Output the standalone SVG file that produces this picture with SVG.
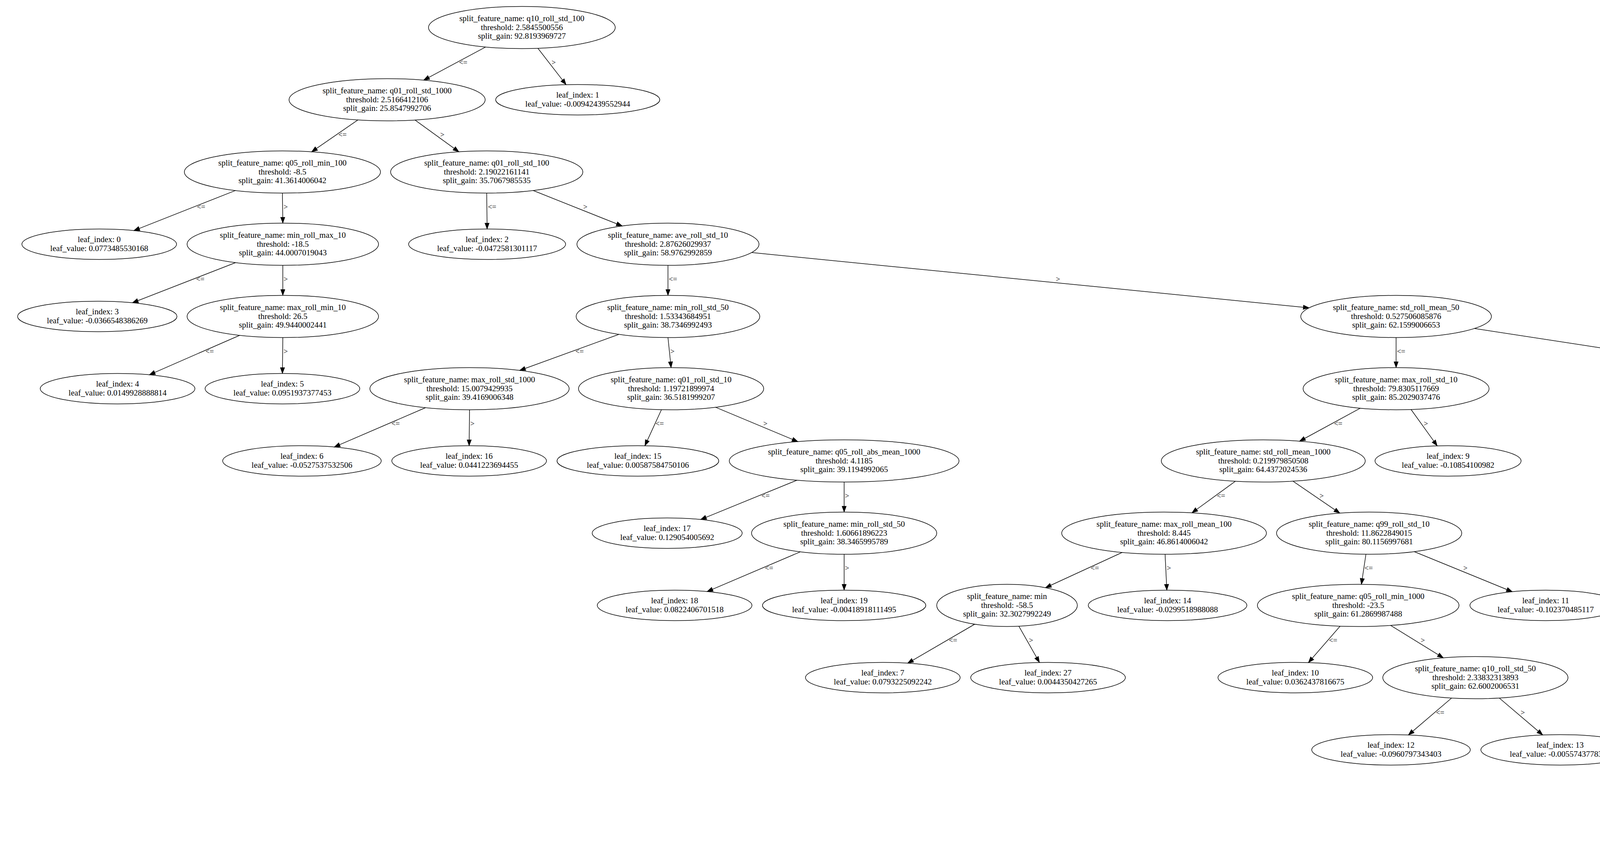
<svg xmlns="http://www.w3.org/2000/svg" width="6746" height="2159" viewBox="0 0 6746 2159">
<style>
.n ellipse{fill:none;stroke:#000;stroke-width:1.5}
.n text{font-family:"Liberation Serif","Times New Roman",serif;font-size:21px;text-anchor:middle;fill:#000}
#edges line{stroke:#000;stroke-width:1.5;marker-end:url(#ah)}
#edges text{font-family:"Liberation Serif","Times New Roman",serif;font-size:19px;fill:#000}
</style>
<defs>
<marker id="ah" markerUnits="userSpaceOnUse" markerWidth="16" markerHeight="12" refX="15" refY="5.5" orient="auto" overflow="visible"><path d="M0,0 L15,5.5 L0,11 z" fill="#000" stroke="#000" stroke-width="1"/></marker>
</defs>
<rect width="6746" height="2159" fill="#fff"/>
<g id="edges">
<line x1="1243.2" y1="120.3" x2="1084.5" y2="205.4"/><text x="1175" y="166">&lt;=</text>
<line x1="1377.1" y1="123.7" x2="1449.2" y2="216.9"/><text x="1412" y="166">&gt;</text>
<line x1="916.3" y1="307.1" x2="797.7" y2="388.9"/><text x="866" y="351">&lt;=</text>
<line x1="1062.4" y1="307.3" x2="1174.8" y2="388.8"/><text x="1127" y="351">&gt;</text>
<line x1="602.8" y1="487.9" x2="342.5" y2="590.6"/><text x="504" y="536">&lt;=</text>
<line x1="723" y1="494.5" x2="724" y2="571.5"/><text x="726" y="536">&gt;</text>
<line x1="1246" y1="494.5" x2="1247" y2="586.5"/><text x="1249" y="536">&lt;=</text>
<line x1="1364.6" y1="487.8" x2="1592.9" y2="578.8"/><text x="1493" y="536">&gt;</text>
<line x1="603.3" y1="672.5" x2="338.9" y2="775.5"/><text x="502" y="721">&lt;=</text>
<line x1="724" y1="679.5" x2="724" y2="756.5"/><text x="726" y="721">&gt;</text>
<line x1="1710" y1="679.5" x2="1710" y2="756.5"/><text x="1712" y="721">&lt;=</text>
<line x1="1924.2" y1="646.8" x2="3351.4" y2="788.4"/><text x="2703" y="721">&gt;</text>
<line x1="613.7" y1="858.7" x2="382.3" y2="959.9"/><text x="526" y="906">&lt;=</text>
<line x1="724" y1="864.5" x2="723" y2="956.5"/><text x="726" y="906">&gt;</text>
<line x1="1584.6" y1="856.2" x2="1330.2" y2="948.8"/><text x="1473" y="906">&lt;=</text>
<line x1="1710" y1="864.5" x2="1718" y2="941.5"/><text x="1716" y="906">&gt;</text>
<line x1="3574" y1="864.5" x2="3574" y2="941.5"/><text x="3576" y="906">&lt;=</text>
<line x1="3774.4" y1="841.3" x2="4570" y2="963.5"/><text x="4215" y="906">&gt;</text>
<line x1="1089.6" y1="1044" x2="855.6" y2="1144.9"/><text x="1002" y="1091">&lt;=</text>
<line x1="1202" y1="1049.5" x2="1201" y2="1141.5"/><text x="1204" y="1091">&gt;</text>
<line x1="1693.3" y1="1049.2" x2="1650.9" y2="1141.6"/><text x="1678" y="1091">&lt;=</text>
<line x1="1831.5" y1="1042.9" x2="2042.6" y2="1131.1"/><text x="1954" y="1091">&gt;</text>
<line x1="3482.4" y1="1045.3" x2="3326.8" y2="1130"/><text x="3415" y="1091">&lt;=</text>
<line x1="3612.3" y1="1048.8" x2="3679.3" y2="1141.9"/><text x="3645" y="1091">&gt;</text>
<line x1="4778" y1="1049.5" x2="4777" y2="1126.5"/><text x="4780" y="1091">&lt;=</text>
<line x1="4945.6" y1="1036.6" x2="5366.3" y2="1139.6"/><text x="5180" y="1091">&gt;</text>
<line x1="2040.4" y1="1229.7" x2="1793.5" y2="1330.6"/><text x="1949" y="1276">&lt;=</text>
<line x1="2161" y1="1234.5" x2="2161" y2="1311.5"/><text x="2163" y="1276">&gt;</text>
<line x1="3162.7" y1="1232.4" x2="3051.3" y2="1313.5"/><text x="3115" y="1276">&lt;=</text>
<line x1="3309.7" y1="1232.2" x2="3430" y2="1314.3"/><text x="3378" y="1276">&gt;</text>
<line x1="4685.5" y1="1230.7" x2="4531.7" y2="1315.2"/><text x="4619" y="1276">&lt;=</text>
<line x1="4815.9" y1="1233.8" x2="4883.9" y2="1326.9"/><text x="4849" y="1276">&gt;</text>
<line x1="5533" y1="1234.5" x2="5533" y2="1311.5"/><text x="5535" y="1276">&lt;=</text>
<line x1="5652" y1="1228.3" x2="5907.5" y2="1330.8"/><text x="5778" y="1276">&gt;</text>
<line x1="2049.3" y1="1413.1" x2="1810.1" y2="1515.1"/><text x="1958" y="1461">&lt;=</text>
<line x1="2161" y1="1419.5" x2="2161" y2="1511.5"/><text x="2163" y="1461">&gt;</text>
<line x1="2872.9" y1="1414.8" x2="2676.3" y2="1505.3"/><text x="2792" y="1461">&lt;=</text>
<line x1="2982.6" y1="1419.5" x2="2987.1" y2="1511.5"/><text x="2987" y="1461">&gt;</text>
<line x1="3496.8" y1="1419.5" x2="3485.2" y2="1496.5"/><text x="3493" y="1461">&lt;=</text>
<line x1="3620.3" y1="1412.7" x2="3871.5" y2="1515.5"/><text x="3746" y="1461">&gt;</text>
<line x1="4417" y1="1419.3" x2="4377.6" y2="1511.7"/><text x="4403" y="1461">&lt;=</text>
<line x1="4533.1" y1="1415.7" x2="4692.3" y2="1501.6"/><text x="4623" y="1461">&gt;</text>
<line x1="5533" y1="1419.5" x2="5533" y2="1496.5"/><text x="5535" y="1461">&lt;=</text>
<line x1="5676.1" y1="1409.2" x2="5993.4" y2="1506.3"/><text x="5855" y="1461">&gt;</text>
<line x1="2495.5" y1="1598.5" x2="2323.5" y2="1698.6"/><text x="2429" y="1646">&lt;=</text>
<line x1="2608.2" y1="1603.7" x2="2661" y2="1696.7"/><text x="2634" y="1646">&gt;</text>
<line x1="3430.8" y1="1603.6" x2="3349.5" y2="1697.1"/><text x="3402" y="1646">&lt;=</text>
<line x1="3559.9" y1="1601.6" x2="3694.9" y2="1684.8"/><text x="3637" y="1646">&gt;</text>
<line x1="4673.6" y1="1596.9" x2="4430.6" y2="1700"/><text x="4579" y="1646">&lt;=</text>
<line x1="4783" y1="1604.5" x2="4784" y2="1696.5"/><text x="4786" y="1646">&gt;</text>
<line x1="5446" y1="1601" x2="5277.7" y2="1698.6"/><text x="5384" y="1646">&lt;=</text>
<line x1="5576.4" y1="1603.6" x2="5640.6" y2="1682.4"/><text x="5613" y="1646">&gt;</text>
<line x1="6138" y1="1604.5" x2="6138" y2="1696.5"/><text x="6140" y="1646">&lt;=</text>
<line x1="6243.9" y1="1599.5" x2="6460.9" y2="1699.8"/><text x="6351" y="1646">&gt;</text>
<line x1="3716.1" y1="1787.7" x2="3605.4" y2="1882.4"/><text x="3676" y="1831">&lt;=</text>
<line x1="3838.2" y1="1787.7" x2="3949.4" y2="1882.4"/><text x="3893" y="1831">&gt;</text>
<line x1="5640.9" y1="1788.6" x2="5565.2" y2="1882"/><text x="5616" y="1831">&lt;=</text>
<line x1="5775.9" y1="1785.5" x2="5932" y2="1870.5"/><text x="5865" y="1831">&gt;</text>
<line x1="5958" y1="1972.5" x2="5858" y2="2051.2"/><text x="5916" y="2015">&lt;=</text>
<line x1="6089.8" y1="1972.5" x2="6189.1" y2="2051.1"/><text x="6147" y="2015">&gt;</text>
</g>
<g id="n0" class="n"><ellipse cx="1336" cy="70.5" rx="239" ry="54"/><text x="1336" y="54">split_feature_name: q10_roll_std_100</text><text x="1336" y="76.5">threshold: 2.5845500556</text><text x="1336" y="99">split_gain: 92.8193969727</text></g>
<g id="n1" class="n"><ellipse cx="991" cy="255.5" rx="251" ry="54"/><text x="991" y="239">split_feature_name: q01_roll_std_1000</text><text x="991" y="261.5">threshold: 2.5166412106</text><text x="991" y="284">split_gain: 25.8547992706</text></g>
<g id="leaf1" class="n"><ellipse cx="1479" cy="255.5" rx="210" ry="39"/><text x="1479" y="250.2">leaf_index: 1</text><text x="1479" y="272.7">leaf_value: -0.00942439552944</text></g>
<g id="n2" class="n"><ellipse cx="723" cy="440.5" rx="251" ry="54"/><text x="723" y="424">split_feature_name: q05_roll_min_100</text><text x="723" y="446.5">threshold: -8.5</text><text x="723" y="469">split_gain: 41.3614006042</text></g>
<g id="n3" class="n"><ellipse cx="1246" cy="440.5" rx="246" ry="54"/><text x="1246" y="424">split_feature_name: q01_roll_std_100</text><text x="1246" y="446.5">threshold: 2.19022161141</text><text x="1246" y="469">split_gain: 35.7067985535</text></g>
<g id="leaf0" class="n"><ellipse cx="254" cy="625.5" rx="198" ry="39"/><text x="254" y="620.2">leaf_index: 0</text><text x="254" y="642.7">leaf_value: 0.0773485530168</text></g>
<g id="n4" class="n"><ellipse cx="724" cy="625.5" rx="245" ry="54"/><text x="724" y="609">split_feature_name: min_roll_max_10</text><text x="724" y="631.5">threshold: -18.5</text><text x="724" y="654">split_gain: 44.0007019043</text></g>
<g id="leaf2" class="n"><ellipse cx="1247" cy="625.5" rx="201" ry="39"/><text x="1247" y="620.2">leaf_index: 2</text><text x="1247" y="642.7">leaf_value: -0.0472581301117</text></g>
<g id="n5" class="n"><ellipse cx="1710" cy="625.5" rx="233" ry="54"/><text x="1710" y="609">split_feature_name: ave_roll_std_10</text><text x="1710" y="631.5">threshold: 2.87626029937</text><text x="1710" y="654">split_gain: 58.9762992859</text></g>
<g id="leaf3" class="n"><ellipse cx="249" cy="810.5" rx="204" ry="39"/><text x="249" y="805.2">leaf_index: 3</text><text x="249" y="827.7">leaf_value: -0.0366548386269</text></g>
<g id="n6" class="n"><ellipse cx="724" cy="810.5" rx="245" ry="54"/><text x="724" y="794">split_feature_name: max_roll_min_10</text><text x="724" y="816.5">threshold: 26.5</text><text x="724" y="839">split_gain: 49.9440002441</text></g>
<g id="n7" class="n"><ellipse cx="1710" cy="810.5" rx="235" ry="54"/><text x="1710" y="794">split_feature_name: min_roll_std_50</text><text x="1710" y="816.5">threshold: 1.53343684951</text><text x="1710" y="839">split_gain: 38.7346992493</text></g>
<g id="n8" class="n"><ellipse cx="3574" cy="810.5" rx="244" ry="54"/><text x="3574" y="794">split_feature_name: std_roll_mean_50</text><text x="3574" y="816.5">threshold: 0.527506085876</text><text x="3574" y="839">split_gain: 62.1599006653</text></g>
<g id="leaf4" class="n"><ellipse cx="301" cy="995.5" rx="198" ry="39"/><text x="301" y="990.2">leaf_index: 4</text><text x="301" y="1012.7">leaf_value: 0.0149928888814</text></g>
<g id="leaf5" class="n"><ellipse cx="723" cy="995.5" rx="198" ry="39"/><text x="723" y="990.2">leaf_index: 5</text><text x="723" y="1012.7">leaf_value: 0.0951937377453</text></g>
<g id="n9" class="n"><ellipse cx="1202" cy="995.5" rx="255" ry="54"/><text x="1202" y="979">split_feature_name: max_roll_std_1000</text><text x="1202" y="1001.5">threshold: 15.0079429935</text><text x="1202" y="1024">split_gain: 39.4169006348</text></g>
<g id="n10" class="n"><ellipse cx="1718" cy="995.5" rx="237" ry="54"/><text x="1718" y="979">split_feature_name: q01_roll_std_10</text><text x="1718" y="1001.5">threshold: 1.19721899974</text><text x="1718" y="1024">split_gain: 36.5181999207</text></g>
<g id="n11" class="n"><ellipse cx="3574" cy="995.5" rx="238" ry="54"/><text x="3574" y="979">split_feature_name: max_roll_std_10</text><text x="3574" y="1001.5">threshold: 79.8305117669</text><text x="3574" y="1024">split_gain: 85.2029037476</text></g>
<g id="n12" class="n"><ellipse cx="4778" cy="995.5" rx="258" ry="54"/><text x="4778" y="979">split_feature_name: q05_roll_min_1000</text><text x="4778" y="1001.5">threshold: -27.5</text><text x="4778" y="1024">split_gain: 34.315700531</text></g>
<g id="leaf6" class="n"><ellipse cx="773" cy="1180.5" rx="203" ry="39"/><text x="773" y="1175.2">leaf_index: 6</text><text x="773" y="1197.7">leaf_value: -0.0527537532506</text></g>
<g id="leaf16" class="n"><ellipse cx="1201" cy="1180.5" rx="198" ry="39"/><text x="1201" y="1175.2">leaf_index: 16</text><text x="1201" y="1197.7">leaf_value: 0.0441223694455</text></g>
<g id="leaf15" class="n"><ellipse cx="1633" cy="1180.5" rx="207" ry="39"/><text x="1633" y="1175.2">leaf_index: 15</text><text x="1633" y="1197.7">leaf_value: 0.00587584750106</text></g>
<g id="n13" class="n"><ellipse cx="2161" cy="1180.5" rx="294" ry="54"/><text x="2161" y="1164">split_feature_name: q05_roll_abs_mean_1000</text><text x="2161" y="1186.5">threshold: 4.1185</text><text x="2161" y="1209">split_gain: 39.1194992065</text></g>
<g id="n14" class="n"><ellipse cx="3234" cy="1180.5" rx="261" ry="54"/><text x="3234" y="1164">split_feature_name: std_roll_mean_1000</text><text x="3234" y="1186.5">threshold: 0.219979850508</text><text x="3234" y="1209">split_gain: 64.4372024536</text></g>
<g id="leaf9" class="n"><ellipse cx="3707" cy="1180.5" rx="187" ry="39"/><text x="3707" y="1175.2">leaf_index: 9</text><text x="3707" y="1197.7">leaf_value: -0.10854100982</text></g>
<g id="n15" class="n"><ellipse cx="4777" cy="1180.5" rx="250" ry="54"/><text x="4777" y="1164">split_feature_name: q05_roll_std_1000</text><text x="4777" y="1186.5">threshold: 2.71169518646</text><text x="4777" y="1209">split_gain: 30.2642002106</text></g>
<g id="n16" class="n"><ellipse cx="5533" cy="1180.5" rx="255" ry="54"/><text x="5533" y="1164">split_feature_name: max_roll_mean_50</text><text x="5533" y="1186.5">threshold: 22.28</text><text x="5533" y="1209">split_gain: 63.7141990662</text></g>
<g id="leaf17" class="n"><ellipse cx="1708" cy="1365.5" rx="192" ry="39"/><text x="1708" y="1360.2">leaf_index: 17</text><text x="1708" y="1382.7">leaf_value: 0.129054005692</text></g>
<g id="n17" class="n"><ellipse cx="2161" cy="1365.5" rx="237" ry="54"/><text x="2161" y="1349">split_feature_name: min_roll_std_50</text><text x="2161" y="1371.5">threshold: 1.60661896223</text><text x="2161" y="1394">split_gain: 38.3465995789</text></g>
<g id="n18" class="n"><ellipse cx="2980" cy="1365.5" rx="262" ry="54"/><text x="2980" y="1349">split_feature_name: max_roll_mean_100</text><text x="2980" y="1371.5">threshold: 8.445</text><text x="2980" y="1394">split_gain: 46.8614006042</text></g>
<g id="n19" class="n"><ellipse cx="3505" cy="1365.5" rx="237" ry="54"/><text x="3505" y="1349">split_feature_name: q99_roll_std_10</text><text x="3505" y="1371.5">threshold: 11.8622849015</text><text x="3505" y="1394">split_gain: 80.1156997681</text></g>
<g id="n20" class="n"><ellipse cx="4440" cy="1365.5" rx="253" ry="54"/><text x="4440" y="1349">split_feature_name: std_roll_mean_100</text><text x="4440" y="1371.5">threshold: 0.400815579691</text><text x="4440" y="1394">split_gain: 27.701499939</text></g>
<g id="leaf28" class="n"><ellipse cx="4912" cy="1365.5" rx="190" ry="39"/><text x="4912" y="1360.2">leaf_index: 28</text><text x="4912" y="1382.7">leaf_value: 0.053158399413</text></g>
<g id="n21" class="n"><ellipse cx="5533" cy="1365.5" rx="244" ry="54"/><text x="5533" y="1349">split_feature_name: q01_roll_std_100</text><text x="5533" y="1371.5">threshold: 2.25311232529</text><text x="5533" y="1394">split_gain: 44.9250984192</text></g>
<g id="leaf21" class="n"><ellipse cx="5994" cy="1365.5" rx="190" ry="39"/><text x="5994" y="1360.2">leaf_index: 21</text><text x="5994" y="1382.7">leaf_value: 0.110434979377</text></g>
<g id="leaf18" class="n"><ellipse cx="1727" cy="1550.5" rx="198" ry="39"/><text x="1727" y="1545.2">leaf_index: 18</text><text x="1727" y="1567.7">leaf_value: 0.0822406701518</text></g>
<g id="leaf19" class="n"><ellipse cx="2161" cy="1550.5" rx="209" ry="39"/><text x="2161" y="1545.2">leaf_index: 19</text><text x="2161" y="1567.7">leaf_value: -0.00418918111495</text></g>
<g id="n22" class="n"><ellipse cx="2578" cy="1550.5" rx="180" ry="54"/><text x="2578" y="1534">split_feature_name: min</text><text x="2578" y="1556.5">threshold: -58.5</text><text x="2578" y="1579">split_gain: 32.3027992249</text></g>
<g id="leaf14" class="n"><ellipse cx="2989" cy="1550.5" rx="203" ry="39"/><text x="2989" y="1545.2">leaf_index: 14</text><text x="2989" y="1567.7">leaf_value: -0.0299518988088</text></g>
<g id="n23" class="n"><ellipse cx="3477" cy="1550.5" rx="258" ry="54"/><text x="3477" y="1534">split_feature_name: q05_roll_min_1000</text><text x="3477" y="1556.5">threshold: -23.5</text><text x="3477" y="1579">split_gain: 61.2869987488</text></g>
<g id="leaf11" class="n"><ellipse cx="3957" cy="1550.5" rx="194" ry="39"/><text x="3957" y="1545.2">leaf_index: 11</text><text x="3957" y="1567.7">leaf_value: -0.102370485117</text></g>
<g id="leaf8" class="n"><ellipse cx="4361" cy="1550.5" rx="183" ry="39"/><text x="4361" y="1545.2">leaf_index: 8</text><text x="4361" y="1567.7">leaf_value: 0.02617193221</text></g>
<g id="n24" class="n"><ellipse cx="4783" cy="1550.5" rx="214" ry="54"/><text x="4783" y="1534">split_feature_name: std_to_mean</text><text x="4783" y="1556.5">threshold: 1.08607612574</text><text x="4783" y="1579">split_gain: 35.2535018921</text></g>
<g id="n25" class="n"><ellipse cx="5533" cy="1550.5" rx="244" ry="54"/><text x="5533" y="1534">split_feature_name: q10_roll_std_100</text><text x="5533" y="1556.5">threshold: 2.45546185351</text><text x="5533" y="1579">split_gain: 43.9908981323</text></g>
<g id="n26" class="n"><ellipse cx="6138" cy="1550.5" rx="252" ry="54"/><text x="6138" y="1534">split_feature_name: min_roll_std_1000</text><text x="6138" y="1556.5">threshold: 2.49622728343</text><text x="6138" y="1579">split_gain: 44.0382003784</text></g>
<g id="leaf7" class="n"><ellipse cx="2260" cy="1735.5" rx="198" ry="39"/><text x="2260" y="1730.2">leaf_index: 7</text><text x="2260" y="1752.7">leaf_value: 0.0793225092242</text></g>
<g id="leaf27" class="n"><ellipse cx="2683" cy="1735.5" rx="198" ry="39"/><text x="2683" y="1730.2">leaf_index: 27</text><text x="2683" y="1752.7">leaf_value: 0.0044350427265</text></g>
<g id="leaf10" class="n"><ellipse cx="3316" cy="1735.5" rx="198" ry="39"/><text x="3316" y="1730.2">leaf_index: 10</text><text x="3316" y="1752.7">leaf_value: 0.0362437816675</text></g>
<g id="n27" class="n"><ellipse cx="3777" cy="1735.5" rx="237" ry="54"/><text x="3777" y="1719">split_feature_name: q10_roll_std_50</text><text x="3777" y="1741.5">threshold: 2.33832313893</text><text x="3777" y="1764">split_gain: 62.6002006531</text></g>
<g id="leaf29" class="n"><ellipse cx="4347" cy="1735.5" rx="201" ry="39"/><text x="4347" y="1730.2">leaf_index: 29</text><text x="4347" y="1752.7">leaf_value: -0.0211806906547</text></g>
<g id="leaf30" class="n"><ellipse cx="4784" cy="1735.5" rx="206" ry="39"/><text x="4784" y="1730.2">leaf_index: 30</text><text x="4784" y="1752.7">leaf_value: 0.00435859376333</text></g>
<g id="leaf20" class="n"><ellipse cx="5214" cy="1735.5" rx="198" ry="39"/><text x="5214" y="1730.2">leaf_index: 20</text><text x="5214" y="1752.7">leaf_value: 0.0399191327021</text></g>
<g id="n28" class="n"><ellipse cx="5684" cy="1735.5" rx="243" ry="54"/><text x="5684" y="1719">split_feature_name: q01_roll_std_100</text><text x="5684" y="1741.5">threshold: 2.23514173731</text><text x="5684" y="1764">split_gain: 37.1239013672</text></g>
<g id="leaf22" class="n"><ellipse cx="6138" cy="1735.5" rx="183" ry="39"/><text x="6138" y="1730.2">leaf_index: 22</text><text x="6138" y="1752.7">leaf_value: 0.11324460879</text></g>
<g id="leaf23" class="n"><ellipse cx="6538" cy="1735.5" rx="191" ry="39"/><text x="6538" y="1730.2">leaf_index: 23</text><text x="6538" y="1752.7">leaf_value: 0.024659957815</text></g>
<g id="leaf12" class="n"><ellipse cx="3561" cy="1920.5" rx="203" ry="39"/><text x="3561" y="1915.2">leaf_index: 12</text><text x="3561" y="1937.7">leaf_value: -0.0960797343403</text></g>
<g id="leaf13" class="n"><ellipse cx="3994" cy="1920.5" rx="203" ry="39"/><text x="3994" y="1915.2">leaf_index: 13</text><text x="3994" y="1937.7">leaf_value: -0.0055743778324</text></g>
<g id="leaf24" class="n"><ellipse cx="5534" cy="1920.5" rx="187" ry="39"/><text x="5534" y="1915.2">leaf_index: 24</text><text x="5534" y="1937.7">leaf_value: -0.0651844998372</text></g>
<g id="n29" class="n"><ellipse cx="6024" cy="1920.5" rx="245" ry="54"/><text x="6024" y="1904">split_feature_name: q10_roll_std_100</text><text x="6024" y="1926.5">threshold: 2.47563888295</text><text x="6024" y="1949">split_gain: 46.2728004456</text></g>
<g id="leaf25" class="n"><ellipse cx="5810" cy="2089" rx="198" ry="39"/><text x="5810" y="2083.7">leaf_index: 25</text><text x="5810" y="2106.2">leaf_value: 0.0533033849051</text></g>
<g id="leaf26" class="n"><ellipse cx="6237" cy="2089" rx="201" ry="39"/><text x="6237" y="2083.7">leaf_index: 26</text><text x="6237" y="2106.2">leaf_value: -0.0305945116766</text></g>
</svg>
